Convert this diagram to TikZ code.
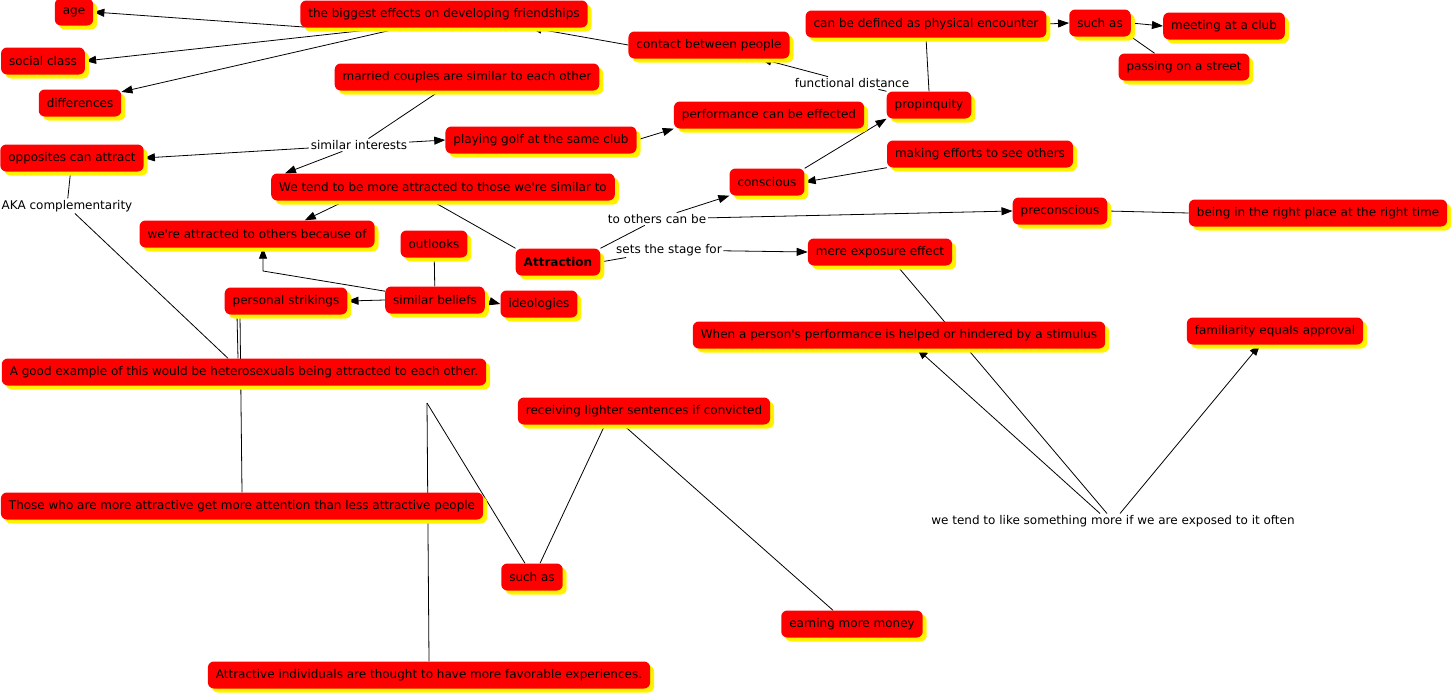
\documentclass[tikz,border=0pt]{standalone}
\usepackage{fontspec}
\usepackage{tikz}
\usetikzlibrary{arrows.meta, shadows}
\newfontfamily\cmapfont{DejaVu Sans}
\pgfdeclarelayer{background}
\pgfsetlayers{background,main}

\tikzset{
  concept/.style={rectangle, rounded corners=6pt, fill=red, text=black,
    font=\cmapfont\fontsize{12}{14}\selectfont, inner xsep=8pt, inner ysep=0pt,
    minimum height=27pt,
    drop shadow={fill=yellow, opacity=1, shadow xshift=4pt, shadow yshift=-4pt}},
  linkword/.style={fill=white, text=black, font=\cmapfont\fontsize{12}{14}\selectfont, inner sep=1.5pt},
  link/.style={line width=0.8pt},
  arrow/.style={link, -{Triangle[length=11pt,width=8pt]}}
}

\begin{document}
\begin{tikzpicture}[x=1pt,y=1pt,yscale=-1]
\useasboundingbox (0,0) rectangle (1455,696);

%Concepts: top row
\node[concept] (age) at (74,12) {age};
\node[concept] (big) at (444,14) {the biggest effects on developing friendships};
\node[concept] (social) at (43,61) {social class};
\node[concept] (diff) at (80,103) {differences};
\node[concept] (married) at (467,77) {married couples are similar to each other};
\node[concept] (contact) at (709,45) {contact between people};
\node[concept] (defined) at (926,24) {can be defined as physical encounter};
\node[concept] (suchas1) at (1100,23) {such as};
\node[concept] (club) at (1224,26) {meeting at a club};
\node[concept] (street) at (1184,67) {passing on a street};
\node[concept] (propinq) at (929,105) {propinquity};
\node[concept] (perform) at (769,115) {performance can be effected};
\node[concept] (golf) at (541,140) {playing golf at the same club};
%Concepts: middle
\node[concept] (opposites) at (72,158) {opposites can attract};
\node[concept] (conscious) at (767,182) {conscious};
\node[concept] (efforts) at (980,154) {making efforts to see others};
\node[concept] (similar) at (443,187) {We tend to be more attracted to those we\textquotesingle re similar to};
\node[concept] (precon) at (1060,211) {preconscious};
\node[concept] (rightplace) at (1318,213) {being in the right place at the right time};
\node[concept] (because) at (257,234) {we\textquotesingle re attracted to others because of};
\node[concept] (outlooks) at (434,244) {outlooks};
\node[concept] (attraction) at (558,262) {\bfseries Attraction};
\node[concept] (mere) at (880,252) {mere exposure effect};
\node[concept] (strikings) at (286,301) {personal strikings};
\node[concept] (beliefs) at (435,300) {similar beliefs};
\node[concept] (ideo) at (539,304) {ideologies};
\node[concept] (stimulus) at (899,335) {When a person\textquotesingle s performance is helped or hindered by a stimulus};
\node[concept] (familiar) at (1275,331) {familiarity equals approval};
%Concepts: bottom
\node[concept] (example) at (244,372) {A good example of this would be heterosexuals being attracted to each other.};
\node[concept] (lighter) at (644,411) {receiving lighter sentences if convicted};
\node[concept] (attention) at (242,506) {Those who are more attractive get more attention than less attractive people};
\node[concept] (suchas2) at (532,577) {such as};
\node[concept] (money) at (852,624) {earning more money};
\node[concept] (favorable) at (429,675) {Attractive individuals are thought to have more favorable experiences.};

%Linking phrases
\node[linkword] (fdist) at (852,83) {functional distance};
\node[linkword] (interests) at (359,145) {similar interests};
\node[linkword] (aka) at (67,206) {AKA complementarity};
\node[linkword] (canbe) at (657,219) {to others can be};
\node[linkword] (stage) at (669,250) {sets the stage for};
\node[linkword] (often) at (1113,521) {we tend to like something more if we are exposed to it often};
\coordinate (hidden1) at (263,271);
\coordinate (hidden2) at (427,403);

\begin{pgfonlayer}{background}
%Links: friendships
\draw[arrow] (big.186) -- (age.east);
\draw[arrow] (big.194) -- (social.east);
\draw[arrow] (big.198) -- (diff.15);
\draw[arrow] (contact.west) -- (big.-9);
%Links: propinquity
\draw[link] (propinq.north west) -- (fdist);
\draw[arrow] (fdist) -- (contact);
\draw[link] (defined.south) -- (propinq.north);
\draw[arrow] (defined.east) -- (suchas1.west);
\draw[arrow] (suchas1.east) -- (club.west);
\draw[link] (suchas1.south east) -- (street.155);
%Links: similarity
\draw[link] (married.207) -- (interests);
\draw[arrow] (interests) -- (opposites.east);
\draw[arrow] (interests) -- (golf.west);
\draw[arrow] (interests) -- ([xshift=14pt]similar.north west);
\draw[arrow] (golf.east) -- (perform.south west);
\draw[arrow] (conscious.north east) -- (propinq.south west);
\draw[arrow] (efforts.south west) -- (conscious.east);
%Links: attraction
\draw[link] (attraction.north east) -- (canbe);
\draw[arrow] (canbe) -- (conscious.south west);
\draw[arrow] (canbe) -- (precon.west);
\draw[link] (attraction.east) -- (stage);
\draw[arrow] (stage) -- (mere.west);
\draw[link] (precon.east) -- (rightplace.west);
\draw[link] (similar.230) -- (attraction.north west);
\draw[arrow] (similar.188) -- (because.16);
\draw[arrow] (beliefs.170) -- (hidden1) -- (hidden1 |- because.south);
\draw[link] (outlooks) -- (beliefs);
\draw[arrow] (beliefs.west) -- (strikings.east);
\draw[arrow] (beliefs.east) -- (ideo.west);
%Links: examples
\draw[link] (opposites) -- (aka);
\draw[link] (aka) -- ([xshift=-16pt]example.north);
\draw[link] ([xshift=-49pt]strikings.south) -- ([xshift=-6pt]example.north);
\draw[link] ([xshift=-46pt]strikings.south) -- (attention.north);
\draw[link] (hidden2) -- (favorable.north);
\draw[link] (hidden2) -- ([xshift=-7pt]suchas2.north);
\draw[link] ([xshift=-39pt]lighter.south) -- ([xshift=8pt]suchas2.north);
\draw[link] ([xshift=-21pt]lighter.south) -- ([xshift=-19pt]money.north);
%Links: exposure
\draw[link] ([xshift=17pt]mere.south) -- ([xshift=-6pt]often.north);
\draw[arrow] ([xshift=-13pt]often.north) -- ([xshift=18pt]stimulus.south);
\draw[arrow] ([xshift=7pt]often.north) -- ([xshift=-15pt]familiar.south);
\end{pgfonlayer}

\end{tikzpicture}
\end{document}
